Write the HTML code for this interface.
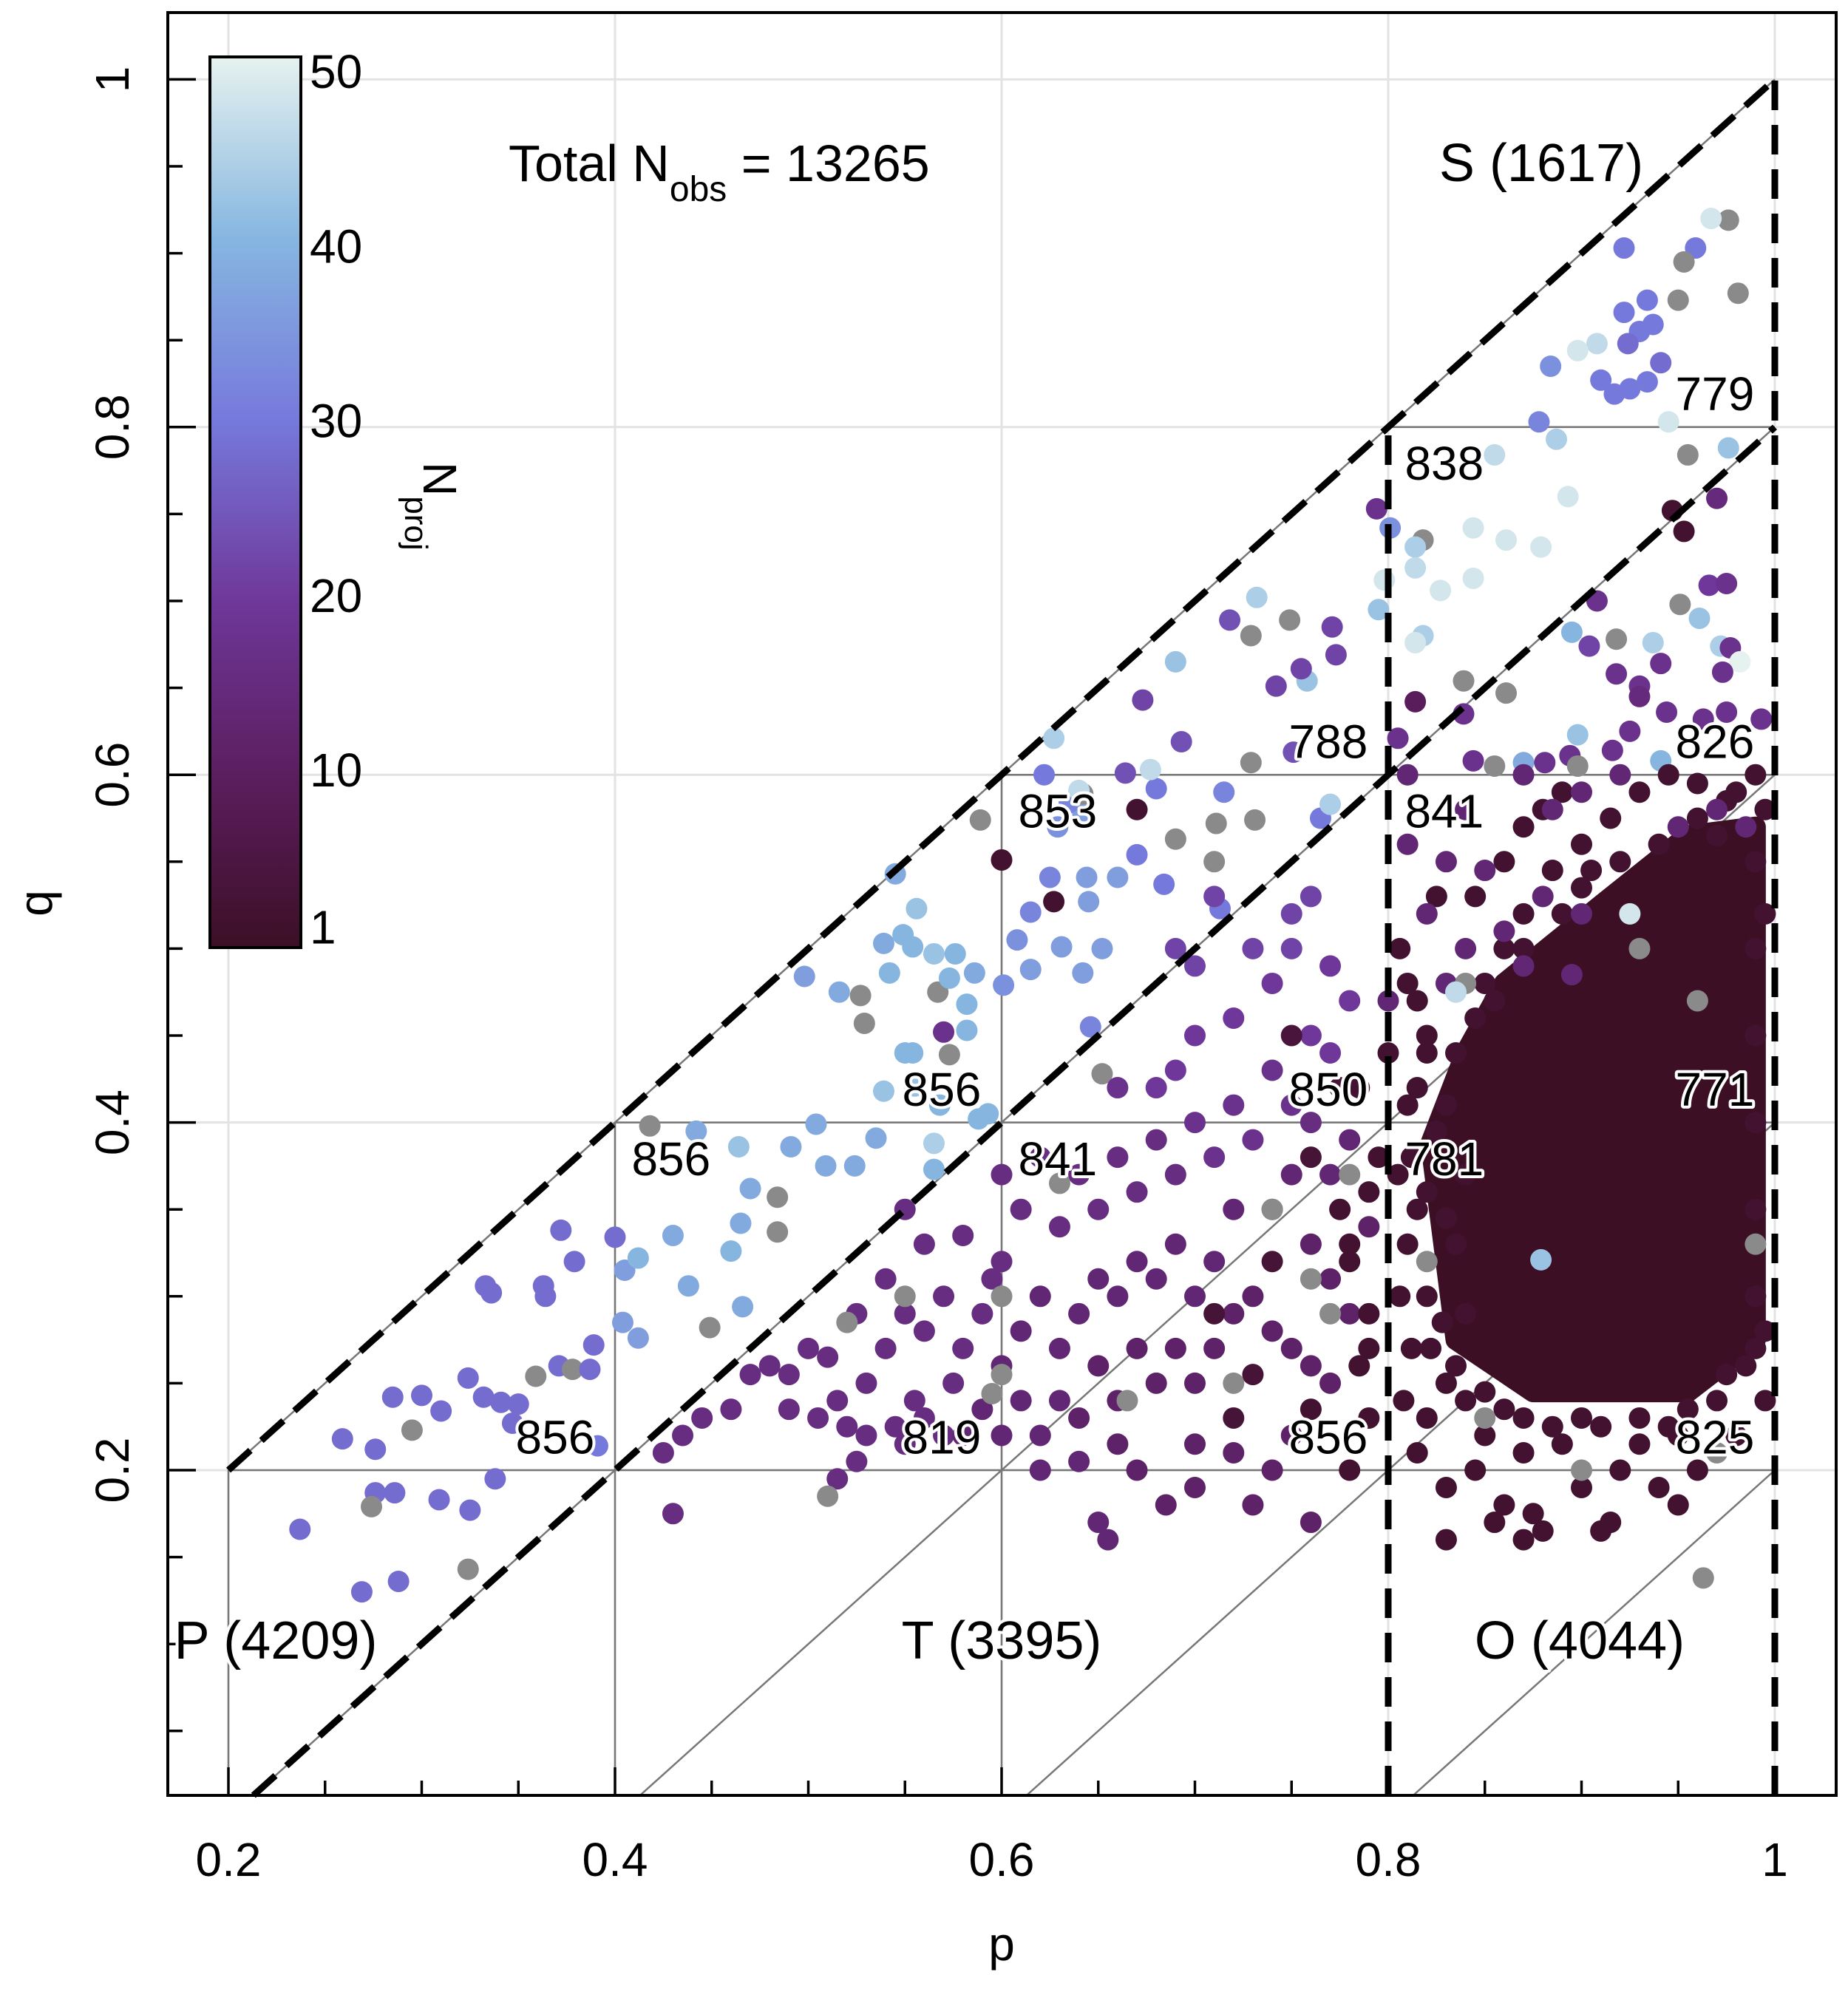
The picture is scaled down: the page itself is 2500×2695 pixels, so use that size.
<!DOCTYPE html>
<html><head><meta charset="utf-8">
<style>
html,body{margin:0;padding:0;background:#fff;}
svg{display:block;font-family:"Liberation Sans",Arial,sans-serif;}
.halo{paint-order:stroke;stroke:#fff;stroke-width:8px;stroke-linejoin:round;}
</style></head>
<body>
<svg id="chart" width="2500" height="2695" viewBox="0 0 2500 2695" xmlns="http://www.w3.org/2000/svg">
<g id="grid"></g>
<g id="guides"></g>
<g id="core"></g>
<g id="points"></g>
<g id="dashes"></g>
<g id="axes"></g>
<g id="labels"></g>
<g id="cbar"></g>
</svg>
<script>
const xTicks=[0.2,0.4,0.6,0.8,1];
const xTickLabels=["0.2","0.4","0.6","0.8","1"];
const yTicks=[0.2,0.4,0.6,0.8,1];
const yTickLabels=["0.2","0.4","0.6","0.8","1"];
const cbTicks=[1,10,20,30,40,50];
const cbLabels=["1","10","20","30","40","50"];
// [p, q, Nproj] ; null = gray (no value)
const ptsP=[[0.237,0.166,28],[0.269,0.130,28],[0.288,0.136,28],[0.276,0.187,28],[0.274,0.179,null],[0.286,0.187,28],[0.309,0.183,28],[0.325,0.177,28],[0.324,0.143,null],[0.338,0.195,28],[0.259,0.218,28],[0.276,0.212,28],[0.285,0.242,28],[0.300,0.243,28],[0.310,0.234,28],[0.295,0.223,null],[0.324,0.253,28],[0.332,0.242,28],[0.341,0.239,28],[0.350,0.238,28],[0.347,0.227,28],[0.359,0.254,null],[0.371,0.260,28],[0.378,0.258,null],[0.387,0.258,28],[0.389,0.272,28],[0.391,0.214,30],[0.364,0.300,28],[0.363,0.306,28],[0.333,0.306,28],[0.336,0.302,28],[0.379,0.320,28],[0.372,0.338,28],[0.400,0.334,28],[0.405,0.315,36],[0.404,0.285,36],[0.412,0.276,36],[0.412,0.322,40],[0.430,0.335,38],[0.449,0.282,null],[0.466,0.294,38],[0.438,0.306,38],[0.460,0.326,40],[0.465,0.342,38],[0.484,0.337,null],[0.470,0.362,38],[0.484,0.357,null],[0.491,0.386,38],[0.509,0.375,38],[0.524,0.375,38],[0.535,0.391,38],[0.504,0.399,38],[0.418,0.398,null],[0.442,0.395,38],[0.464,0.386,42]];
const ptsUpper=[[0.498,0.484,36],[0.516,0.475,38],[0.527,0.473,null],[0.529,0.457,null],[0.539,0.503,38],[0.542,0.486,40],[0.545,0.543,38],[0.556,0.523,42],[0.549,0.508,40],[0.554,0.501,40],[0.565,0.497,42],[0.567,0.475,null],[0.573,0.483,40],[0.576,0.497,40],[0.586,0.486,38],[0.582,0.468,40],[0.570,0.452,18],[0.550,0.440,40],[0.554,0.440,40],[0.573,0.439,null],[0.582,0.453,40],[0.539,0.418,42],[0.555,0.421,42],[0.568,0.410,40],[0.588,0.402,40],[0.593,0.405,40],[0.565,0.388,44],[0.565,0.373,40],[0.608,0.505,34],[0.615,0.521,32],[0.625,0.541,32],[0.629,0.570,34],[0.642,0.578,36],[0.644,0.541,36],[0.645,0.527,36],[0.631,0.501,36],[0.642,0.486,36],[0.652,0.500,36],[0.601,0.479,34],[0.615,0.488,36],[0.646,0.455,32],[0.652,0.428,null],[0.642,0.589,null],[0.635,0.584,32],[0.640,0.591,46],[0.622,0.600,30],[0.627,0.621,44],[0.589,0.574,null],[0.600,0.551,3],[0.627,0.527,3],[0.660,0.541,36],[0.670,0.580,3],[0.670,0.554,30],[0.680,0.592,30],[0.684,0.537,30],[0.690,0.563,null],[0.677,0.603,46],[0.664,0.601,24],[0.673,0.643,22],[0.693,0.619,24],[0.711,0.572,null],[0.715,0.590,32],[0.731,0.574,null],[0.713,0.523,30],[0.710,0.550,null],[0.729,0.607,null],[0.751,0.613,24],[0.765,0.575,30],[0.770,0.583,44],[0.690,0.665,42],[0.718,0.689,24],[0.729,0.680,null],[0.732,0.702,44],[0.749,0.689,null],[0.758,0.654,42],[0.742,0.651,22],[0.755,0.661,22],[0.771,0.685,22],[0.773,0.669,22],[0.794,0.753,18],[0.795,0.695,42]];
const ptsS=[[0.922,0.903,30],[0.976,0.919,null],[0.967,0.920,48],[0.959,0.903,30],[0.953,0.895,null],[0.981,0.877,null],[0.950,0.873,null],[0.934,0.873,30],[0.922,0.866,30],[0.930,0.855,30],[0.937,0.859,30],[0.941,0.837,28],[0.924,0.848,28],[0.908,0.848,46],[0.898,0.844,48],[0.884,0.835,34],[0.910,0.827,30],[0.917,0.819,30],[0.925,0.822,30],[0.934,0.826,30],[0.878,0.803,32],[0.887,0.793,44],[0.855,0.784,46],[0.893,0.760,48],[0.945,0.803,48],[0.955,0.784,null],[0.976,0.788,42],[0.879,0.731,48],[0.861,0.735,48],[0.844,0.742,48],[0.818,0.735,null],[0.814,0.731,44],[0.801,0.742,34],[0.798,0.712,48],[0.814,0.719,46],[0.827,0.706,48],[0.844,0.713,48],[0.818,0.680,44],[0.814,0.676,48],[0.839,0.654,null],[0.814,0.642,10],[0.839,0.635,18],[0.861,0.647,null],[0.855,0.605,null],[0.870,0.607,38],[0.895,0.682,40],[0.908,0.700,18],[0.918,0.678,null],[0.918,0.658,18],[0.904,0.674,22],[0.937,0.676,44],[0.941,0.664,18],[0.951,0.698,null],[0.966,0.709,20],[0.975,0.710,18],[0.972,0.674,44],[0.961,0.690,42],[0.977,0.673,18],[0.982,0.665,50],[0.973,0.659,18],[0.947,0.752,3],[0.970,0.759,15],[0.953,0.740,3],[0.930,0.651,18],[0.930,0.645,15],[0.925,0.625,18],[0.898,0.623,42],[0.916,0.614,18],[0.944,0.636,18],[0.963,0.632,18],[0.975,0.636,18],[0.993,0.632,18],[0.894,0.611,18],[0.881,0.607,18],[0.844,0.608,18],[0.805,0.621,18],[0.941,0.608,40],[0.898,0.605,null]];
const ptsT=[[0.425,0.21,16],[0.43,0.175,16],[0.435,0.22,16],[0.445,0.23,16],[0.46,0.235,16],[0.47,0.255,16],[0.48,0.26,16],[0.49,0.255,16],[0.5,0.27,16],[0.51,0.265,16],[0.515,0.24,16],[0.49,0.235,16],[0.505,0.23,16],[0.52,0.225,16],[0.525,0.205,16],[0.515,0.195,16],[0.53,0.22,16],[0.545,0.225,16],[0.55,0.215,16],[0.555,0.24,16],[0.56,0.23,16],[0.57,0.22,16],[0.575,0.25,16],[0.53,0.25,16],[0.54,0.27,16],[0.55,0.29,16],[0.56,0.28,16],[0.57,0.3,16],[0.58,0.27,16],[0.59,0.29,16],[0.6,0.26,14],[0.61,0.28,14],[0.62,0.3,14],[0.63,0.27,14],[0.64,0.29,14],[0.65,0.31,14],[0.66,0.3,14],[0.67,0.32,14],[0.68,0.31,14],[0.69,0.33,14],[0.7,0.3,14],[0.71,0.32,14],[0.72,0.29,12],[0.73,0.3,12],[0.74,0.28,12],[0.75,0.27,12],[0.76,0.26,12],[0.77,0.25,12],[0.71,0.27,12],[0.7,0.25,12],[0.69,0.27,12],[0.68,0.25,12],[0.67,0.27,12],[0.66,0.24,12],[0.65,0.26,12],[0.64,0.23,12],[0.63,0.24,14],[0.62,0.22,14],[0.61,0.24,14],[0.6,0.22,14],[0.59,0.235,14],[0.58,0.22,14],[0.62,0.2,14],[0.64,0.205,14],[0.65,0.17,14],[0.655,0.16,14],[0.67,0.2,12],[0.685,0.18,12],[0.7,0.19,12],[0.72,0.21,12],[0.74,0.2,12],[0.75,0.22,12],[0.76,0.17,12],[0.73,0.18,12],[0.7,0.215,12],[0.66,0.215,12],[0.56,0.33,16],[0.58,0.335,16],[0.6,0.32,16],[0.61,0.35,16],[0.63,0.34,16],[0.64,0.37,16],[0.65,0.35,16],[0.66,0.38,16],[0.67,0.36,16],[0.68,0.39,16],[0.69,0.37,16],[0.7,0.4,18],[0.71,0.38,18],[0.72,0.41,18],[0.73,0.39,18],[0.74,0.43,18],[0.75,0.41,18],[0.76,0.45,20],[0.77,0.44,20],[0.78,0.47,20],[0.72,0.35,14],[0.74,0.35,14],[0.75,0.37,14],[0.76,0.33,12],[0.77,0.31,12],[0.78,0.29,12],[0.77,0.37,14],[0.78,0.39,14],[0.76,0.4,16],[0.79,0.34,12],[0.6,0.37,16],[0.62,0.38,16],[0.55,0.35,16],[0.525,0.29,16],[0.54,0.31,16],[0.595,0.31,16],[0.69,0.43,20],[0.7,0.45,20],[0.72,0.46,20],[0.74,0.48,20],[0.73,0.5,22],[0.75,0.52,22],[0.76,0.53,22],[0.77,0.49,20],[0.68,0.42,20],[0.66,0.42,18],[0.7,0.49,22],[0.69,0.5,22],[0.71,0.53,22],[0.75,0.5,22],[0.78,0.2,3],[0.76,0.235,3],[0.73,0.255,4],[0.71,0.29,4],[0.74,0.32,4],[0.79,0.27,3],[0.78,0.33,3],[0.79,0.36,3],[0.76,0.38,4],[0.775,0.42,4],[0.75,0.45,5],[0.72,0.23,4],[0.595,0.244,null],[0.55,0.3,null],[0.6,0.3,null],[0.51,0.185,null],[0.52,0.285,null],[0.665,0.24,null],[0.72,0.25,null],[0.74,0.35,null],[0.76,0.31,null],[0.77,0.29,null],[0.78,0.37,null],[0.63,0.365,null],[0.6,0.255,null]];
const ptsO=[[0.806,0.5,3],[0.815,0.47,3],[0.82,0.44,3],[0.81,0.41,3],[0.805,0.37,3],[0.81,0.33,3],[0.806,0.30,3],[0.812,0.27,3],[0.808,0.24,3],[0.815,0.21,3],[0.83,0.19,3],[0.845,0.2,3],[0.86,0.18,3],[0.875,0.175,3],[0.9,0.19,3],[0.92,0.2,3],[0.94,0.19,3],[0.96,0.2,3],[0.98,0.22,3],[0.995,0.24,3],[0.83,0.25,3],[0.84,0.29,3],[0.835,0.33,3],[0.84,0.37,3],[0.83,0.41,3],[0.845,0.46,3],[0.86,0.5,3],[0.87,0.52,3],[0.885,0.545,3],[0.9,0.56,3],[0.915,0.575,3],[0.93,0.59,3],[0.945,0.6,3],[0.96,0.595,3],[0.975,0.585,3],[0.99,0.6,3],[0.825,0.53,3],[0.845,0.53,3],[0.86,0.55,3],[0.87,0.57,3],[0.88,0.58,3],[0.89,0.59,3],[0.905,0.545,3],[0.82,0.23,3],[0.85,0.22,3],[0.87,0.21,3],[0.89,0.215,3],[0.91,0.225,3],[0.93,0.215,3],[0.95,0.22,3],[0.97,0.24,3],[0.99,0.27,3],[0.99,0.3,3],[0.99,0.35,3],[0.99,0.4,3],[0.99,0.45,3],[0.99,0.5,3],[0.99,0.55,3],[0.855,0.17,3],[0.87,0.16,3],[0.88,0.165,3],[0.91,0.165,3],[0.915,0.17,3],[0.95,0.18,3],[0.83,0.16,3],[0.78,0.32,3],[0.79,0.29,3],[0.785,0.26,3],[0.79,0.23,3],[0.775,0.35,3],[0.795,0.38,3],[0.785,0.42,3],[0.8,0.44,3],[0.81,0.48,3],
[0.85,0.48,3],[0.87,0.5,3],[0.89,0.52,3],[0.92,0.55,3],[0.94,0.56,3],[0.96,0.575,3],[0.98,0.59,3],[0.995,0.58,3],[0.82,0.45,3],[0.815,0.42,3],[0.812,0.38,3],[0.815,0.35,3],[0.82,0.3,3],[0.822,0.27,3],[0.835,0.26,3],[0.85,0.245,3],[0.87,0.23,3],[0.9,0.23,3],[0.93,0.23,3],[0.955,0.235,3],[0.975,0.255,3],[0.995,0.28,3],[0.835,0.44,3],[0.855,0.47,3],[0.82,0.36,3],[0.84,0.24,3],[0.885,0.225,3],[0.945,0.225,3],[0.985,0.26,3],[0.995,0.52,3],[0.825,0.395,3],[0.83,0.345,3],[0.828,0.285,3],[0.86,0.235,3],[0.97,0.565,3],[0.9,0.535,3],
[0.81,0.56,14],[0.83,0.55,14],[0.85,0.545,14],[0.82,0.52,14],[0.84,0.5,14],[0.86,0.51,14],[0.88,0.53,14],[0.9,0.52,14],[0.87,0.49,14],[0.8,0.47,14],[0.83,0.48,14],[0.885,0.58,14],[0.9,0.59,14],[0.92,0.6,14],[0.895,0.485,14],[0.81,0.6,14],[0.84,0.58,14],[0.87,0.6,14],[0.95,0.57,14],[0.97,0.58,14],[0.985,0.57,14],[0.82,0.32,null],[0.84,0.48,null],[0.93,0.5,null],[0.96,0.47,null],[0.85,0.23,null],[0.9,0.2,null],[0.97,0.21,null],[0.963,0.138,null],[0.99,0.33,null],[0.925,0.52,48],[0.835,0.475,46],[0.879,0.321,42]];
// densest dark area (fully covered by overlapping points in the original)
const corePoly=[[0.86,0.48],[0.91,0.525],[0.955,0.565],[0.99,0.57],[0.99,0.275],[0.955,0.245],[0.875,0.245],[0.835,0.275],[0.822,0.388],[0.84,0.44]];
const cellLabels=[[0.969,0.819,"779"],[0.829,0.779,"838"],[0.769,0.619,"788"],[0.969,0.619,"826"],[0.629,0.579,"853"],[0.829,0.579,"841"],[0.569,0.419,"856"],[0.769,0.419,"850"],[0.969,0.419,"771"],[0.429,0.379,"856"],[0.629,0.379,"841"],[0.829,0.379,"781"],[0.369,0.219,"856"],[0.569,0.219,"819"],[0.769,0.219,"856"],[0.969,0.219,"825"]];

const NS="http://www.w3.org/2000/svg";
const P0=0.2,PX0=309,PSC=2615, Q0=0.2,QY0=1989,QSC=2352;
const X=p=>PX0+(p-P0)*PSC, Y=q=>QY0-(q-Q0)*QSC;
const L=227,R=2484,T=17,B=2429;
const pMin=P0+(L-PX0)/PSC, qMin=Q0-(B-QY0)/QSC;
function el(parent,tag,attrs,text){const e=document.createElementNS(NS,tag);for(const k in attrs)e.setAttribute(k,attrs[k]);if(text!==undefined)e.textContent=text;document.getElementById(parent).appendChild(e);return e;}
function line(g,p1,q1,p2,q2,st,name){const e=el(g,'line',{x1:X(p1),y1:Y(q1),x2:X(p2),y2:Y(q2),style:st});

return e;}
// grid
xTicks.forEach(v=>{const e=el('grid','line',{x1:X(v),x2:X(v),y1:T,y2:B,stroke:'#e3e3e3','stroke-width':3});

});
yTicks.forEach(v=>{const e=el('grid','line',{x1:L,x2:R,y1:Y(v),y2:Y(v),stroke:'#e3e3e3','stroke-width':3});

});
// thin guides
const thin='stroke:#777;stroke-width:2.5';
[0.2,0.4,0.6,0.8].forEach(v=>line('guides',v,v,1,v,thin,'horizontal-guide'));
[0.2,0.4,0.6].forEach(v=>line('guides',v,qMin,v,v,thin,'vertical-guide'));
line('guides',0.2,0.2,1,1,thin,'diagonal-guide');
[0.2,0.4,0.6,0.8].forEach(d=>line('guides',qMin+d,qMin,1,1-d,thin,'diagonal-guide'));
// dense core
{const e=el('core','polygon',{points:corePoly.map(a=>X(a[0])+','+Y(a[1])).join(' '),fill:'#3c0f25',stroke:'#3c0f25','stroke-width':28,'stroke-linejoin':'round'});

}
// colormap
const stops=[[1,[60,15,37]],[10,[90,29,92]],[20,[111,55,153]],[30,[118,121,220]],[40,[134,182,224]],[50,[230,242,239]]];
function cmap(n){if(n===null)return '#8a8a8a';for(let i=0;i<stops.length-1;i++){const a=stops[i],b=stops[i+1];if(n<=b[0]){const t=Math.max(0,(n-a[0])/(b[0]-a[0]));return 'rgb('+a[1].map((c,j)=>Math.round(c+(b[1][j]-c)*t)).join(',')+')';}}return 'rgb(230,242,239)';}
[ptsP,ptsUpper,ptsT,ptsS,ptsO].forEach(arr=>arr.forEach(d=>{const c=el('points','circle',{cx:X(d[0]),cy:Y(d[1]),r:14.5,fill:cmap(d[2])});

}));
// dashed boundaries
const dash='stroke:#000;stroke-width:9;stroke-dasharray:40 20;fill:none';
line('dashes',0.2,0.2,1,1,dash,'boundary-q-equals-p');
line('dashes',qMin+0.2,qMin,1,0.8,dash,'boundary-q-equals-p-minus-0.2');
line('dashes',0.8,qMin,0.8,0.8,dash,'boundary-p-0.8');
line('dashes',1,qMin,1,1,dash,'boundary-p-1');
// axes frame + ticks
{const e=el('axes','rect',{x:L,y:T,width:R-L,height:B-T,fill:'none',stroke:'#000','stroke-width':4});

}
for(let v=0.2;v<=1.0001;v+=0.05){const maj=Math.abs(v*5-Math.round(v*5))<1e-6;const e=el('axes','line',{x1:X(v),x2:X(v),y1:B,y2:B-(maj?38:20),stroke:'#000','stroke-width':3.5});

}
for(let v=0.05;v<=1.0001;v+=0.05){const maj=Math.abs(v*5-Math.round(v*5))<1e-6;const e=el('axes','line',{x1:L,x2:L+(maj?38:20),y1:Y(v),y2:Y(v),stroke:'#000','stroke-width':3.5});

}
xTicks.forEach((v,i)=>{const e=el('axes','text',{x:X(v),y:2538,'font-size':64,'text-anchor':'middle'},xTickLabels[i]);

});
yTicks.forEach((v,i)=>{const e=el('axes','text',{x:0,y:0,'font-size':64,'text-anchor':'middle',transform:'translate(174,'+Y(v)+') rotate(-90)'},yTickLabels[i]);

});
{const e=el('axes','text',{x:1355,y:2652,'font-size':64,'text-anchor':'middle'},'p');


const f=el('axes','text',{x:0,y:0,'font-size':64,'text-anchor':'middle',transform:'translate(70,1222) rotate(-90)'},'q');

}
// labels
cellLabels.forEach(c=>{const e=el('labels','text',{x:X(c[0]),y:Y(c[1])+22,'font-size':64,'text-anchor':'middle',class:'halo'},c[2]);

});
[[373,2244,'P (4209)','region-label-p'],[1355,2244,'T (3395)','region-label-t'],[2137,2244,'O (4044)','region-label-o'],[2085,245,'S (1617)','region-label-s']].forEach(a=>{const e=el('labels','text',{x:a[0],y:a[1],'font-size':72,'text-anchor':'middle',class:'halo'},a[2]);

});
{const t=el('labels','text',{x:688,y:245,'font-size':70});


t.innerHTML='Total N<tspan baseline-shift="sub" font-size="48">obs</tspan> = 13265';}
// colorbar
const cbX=284,cbW=123,cbTop=77,cbBot=1282;
const cbY=n=>{const y50=95,y10=1040;return y50+(50-n)*(y10-y50)/40;};
const defs=el('cbar','defs',{});
const grad=document.createElementNS(NS,'linearGradient');grad.setAttribute('id','cg');grad.setAttribute('x1','0');grad.setAttribute('y1','1');grad.setAttribute('x2','0');grad.setAttribute('y2','0');defs.appendChild(grad);
stops.forEach(s=>{const st=document.createElementNS(NS,'stop');st.setAttribute('offset',((s[0]-1)/49).toFixed(3));st.setAttribute('stop-color','rgb('+s[1].join(',')+')');grad.appendChild(st);});
{const e=el('cbar','rect',{x:cbX,y:cbTop,width:cbW,height:cbBot-cbTop,fill:'url(#cg)',stroke:'#000','stroke-width':4});

}
cbTicks.forEach((v,i)=>{const e=el('cbar','text',{x:419,y:cbY(v)+24,'font-size':64},cbLabels[i]);

});
{const t=el('cbar','text',{x:0,y:0,'font-size':64,transform:'translate(573,625) rotate(90)'});


t.innerHTML='N<tspan baseline-shift="sub" font-size="44">proj</tspan>';}
</script>
</body></html>
